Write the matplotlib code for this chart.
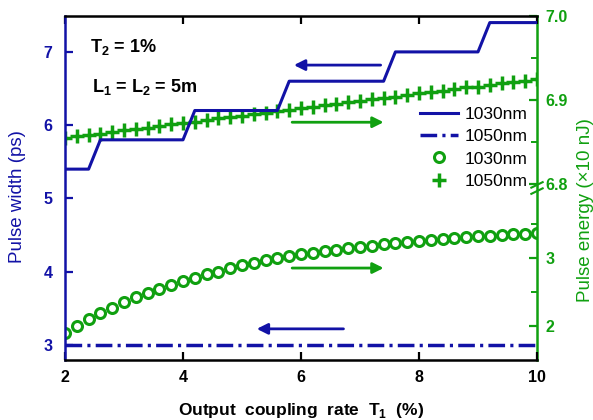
import numpy as np
import matplotlib
matplotlib.use('Agg')
import matplotlib.pyplot as plt
from matplotlib.lines import Line2D
from matplotlib.ticker import FixedLocator

plt.rcParams['font.family'] = ['Liberation Sans', 'DejaVu Sans']
plt.rcParams['mathtext.fontset'] = 'custom'
plt.rcParams['mathtext.rm'] = 'Liberation Sans'
plt.rcParams['mathtext.bf'] = 'Liberation Sans:bold'

# ---------------- data ----------------
# Pulse width, 1030 nm (staircase, left axis, ps)
pw1030_x = [2.0, 2.4, 2.6, 4.0, 4.2, 5.6, 5.8, 7.4, 7.6, 9.0, 9.2, 10.0]
pw1030_y = [5.4, 5.4, 5.8, 5.8, 6.2, 6.2, 6.6, 6.6, 7.0, 7.0, 7.4, 7.4]
# Pulse width, 1050 nm (left axis, ps)
pw1050_x = [2.0, 10.0]
pw1050_y = [3.0, 3.0]

# Output coupling rate T1 (%)
t1 = [2.0, 2.2, 2.4, 2.6, 2.8, 3.0, 3.2, 3.4, 3.6, 3.8,
      4.0, 4.2, 4.4, 4.6, 4.8, 5.0, 5.2, 5.4, 5.6, 5.8,
      6.0, 6.2, 6.4, 6.6, 6.8, 7.0, 7.2, 7.4, 7.6, 7.8,
      8.0, 8.2, 8.4, 8.6, 8.8, 9.0, 9.2, 9.4, 9.6, 9.8, 10.0]
# Pulse energy (x10 nJ), 1030 nm (circles)
pe1030 = [1.90, 2.00, 2.10, 2.19, 2.27, 2.36, 2.43, 2.49, 2.55, 2.61,
          2.66, 2.71, 2.76, 2.80, 2.85, 2.89, 2.93, 2.97, 3.00, 3.03,
          3.06, 3.08, 3.10, 3.12, 3.14, 3.16, 3.18, 3.20, 3.22, 3.24,
          3.25, 3.27, 3.28, 3.30, 3.31, 3.32, 3.33, 3.34, 3.35, 3.36, 3.37]
# Pulse energy (x10 nJ), 1050 nm (crosses)
pe1050 = [6.855, 6.857, 6.858, 6.860, 6.862, 6.864, 6.865, 6.867, 6.869, 6.871,
          6.873, 6.874, 6.876, 6.878, 6.880, 6.881, 6.883, 6.885, 6.887, 6.888,
          6.890, 6.892, 6.894, 6.895, 6.897, 6.899, 6.901, 6.902, 6.904, 6.906,
          6.908, 6.909, 6.911, 6.913, 6.915, 6.916, 6.918, 6.920, 6.922, 6.923, 6.925]

x_ticks = [2, 4, 6, 8, 10]
left_ticks = [3, 4, 5, 6, 7]
right_major = [2, 3, 6.8, 6.9, 7.0]
right_labels = ['2', '3', '6.8', '6.9', '7.0']
right_minor = [2.5, 3.5, 6.85, 6.95]

BLUE = '#1212A6'
GREEN = '#10A010'
DASHES = (4.8, 1.5, 0.9, 1.5)

# ---------------- broken right scale ----------------
XP = [1.5, 4.0294, 6.7952, 7.0]
FP = [0.0, 172.0, 172.01, 344.0]


def fwd(v):
    v = np.asarray(v, dtype=float)
    out = np.interp(v, XP, FP)
    out = np.where(v < XP[0], (v - XP[0]) * 68.0, out)
    out = np.where(v > XP[-1], FP[-1] + (v - XP[-1]) * 840.0, out)
    return out


def inv(y):
    y = np.asarray(y, dtype=float)
    out = np.interp(y, FP, XP)
    out = np.where(y < FP[0], XP[0] + (y - FP[0]) / 68.0, out)
    out = np.where(y > FP[-1], XP[-1] + (y - FP[-1]) / 840.0, out)
    return out


fig = plt.figure(figsize=(5.93, 4.20), dpi=100)
fig.patch.set_facecolor('white')
ax = fig.add_axes([65 / 593, 60 / 420, 472 / 593, 344 / 420])
ax2 = ax.twinx()

# left axis data
ax.plot(pw1030_x, pw1030_y, color=BLUE, lw=2.2, zorder=2)
ax.plot(pw1050_x, pw1050_y, color=BLUE, lw=2.5, dashes=DASHES, zorder=2)
ax.set_xlim(2, 10)
ax.set_ylim(2.795, 7.49)

# right axis data
ax2.set_yscale('function', functions=(fwd, inv))
ax2.plot(t1, pe1030, linestyle='none', marker='o', ms=7.2, mfc='none', mec=GREEN, mew=2.2)
ax2.plot(t1, pe1050, linestyle='none', marker='+', ms=10, mec=GREEN, mew=2.5)
ax2.set_ylim(1.5, 7.0)

# ticks
ax.xaxis.set_major_locator(FixedLocator(x_ticks))
ax.set_xticklabels([str(v) for v in x_ticks], fontsize=11.5, fontweight='bold')
ax.yaxis.set_major_locator(FixedLocator(left_ticks))
ax.set_yticklabels([str(v) for v in left_ticks], fontsize=11.5, fontweight='bold', color=BLUE)
ax.tick_params(axis='x', direction='in', top=True, length=6, width=1.6, pad=7, colors='black')
ax.tick_params(axis='y', direction='in', length=6, width=1.6, pad=9, colors=BLUE)

ax2.yaxis.set_major_locator(FixedLocator(right_major))
ax2.yaxis.set_minor_locator(FixedLocator(right_minor))
ax2.set_yticklabels(right_labels, fontsize=11.5, fontweight='bold', color=GREEN)
ax2.tick_params(axis='y', which='major', direction='in', length=6, width=1.6, pad=6, colors=GREEN)
ax2.tick_params(axis='y', which='minor', direction='in', length=4, width=1.4, colors=GREEN)

# spines
for s in ['left', 'right', 'top', 'bottom']:
    ax.spines[s].set_linewidth(1.8)
    ax2.spines[s].set_linewidth(1.8)
ax.spines['left'].set_color(BLUE)
ax.spines['right'].set_visible(False)
ax.spines['top'].set_color('black')
ax.spines['bottom'].set_color('black')
ax2.spines['left'].set_visible(False)
ax2.spines['top'].set_visible(False)
ax2.spines['bottom'].set_visible(False)
ax2.spines['right'].set_color(GREEN)

# axis break marks on the right spine
for dy in (-0.009, 0.009):
    ax2.plot([0.988, 1.012], [0.5 + dy - 0.008, 0.5 + dy + 0.008], transform=ax2.transAxes,
             color=GREEN, lw=1.5, clip_on=False, zorder=5)

# labels
ax.set_xlabel('Output  coupling  rate  T$_\\mathbf{1}$  (%)', fontsize=12.5, fontweight='bold', labelpad=12)
ax.set_ylabel('Pulse width (ps)', fontsize=13.5, color=BLUE)
ax.yaxis.set_label_coords(-0.082, 0.474)
ax2.set_ylabel('Pulse energy (×10 nJ)', fontsize=13.5, color=GREEN)
ax2.yaxis.set_label_coords(1.085, 0.436)

# annotation texts
ax.text(0.053, 0.895, 'T$_\\mathbf{2}$ = 1%', transform=ax.transAxes, fontsize=13,
        fontweight='bold', va='baseline', ha='left')
ax.text(0.058, 0.78, 'L$_\\mathbf{1}$ = L$_\\mathbf{2}$ = 5m', transform=ax.transAxes, fontsize=13,
        fontweight='bold', va='baseline', ha='left')

# arrows (left-axis coordinates)
arrow_kw = dict(arrowstyle='-|>', lw=2.0, mutation_scale=16, shrinkA=0, shrinkB=0)
ax.annotate('', xy=(5.88, 6.82), xytext=(7.35, 6.82), arrowprops=dict(color=BLUE, **arrow_kw))
ax.annotate('', xy=(7.4, 6.04), xytext=(5.85, 6.04), arrowprops=dict(color=GREEN, **arrow_kw))
ax.annotate('', xy=(7.4, 4.05), xytext=(5.85, 4.05), arrowprops=dict(color=GREEN, **arrow_kw))
ax.annotate('', xy=(5.25, 3.22), xytext=(6.72, 3.22), arrowprops=dict(color=BLUE, **arrow_kw))

# legend
handles = [
    Line2D([], [], color=BLUE, lw=2.2),
    Line2D([], [], color=BLUE, lw=2.5, dashes=DASHES),
    Line2D([], [], linestyle='none', marker='o', ms=7.2, mfc='none', mec=GREEN, mew=2.2),
    Line2D([], [], linestyle='none', marker='+', ms=10, mec=GREEN, mew=2.5),
]
labels = ['1030nm', '1050nm', '1030nm', '1050nm']
leg = ax.legend(handles, labels, loc='upper left', bbox_to_anchor=(0.752, 0.735),
                frameon=False, fontsize=12.5, handlelength=2.2, handletextpad=0.35,
                labelspacing=0.4, borderpad=0, borderaxespad=0)
ax.set_zorder(ax2.get_zorder() + 1)
ax.patch.set_visible(False)

fig.savefig('out.png', dpi=100, facecolor='white')
